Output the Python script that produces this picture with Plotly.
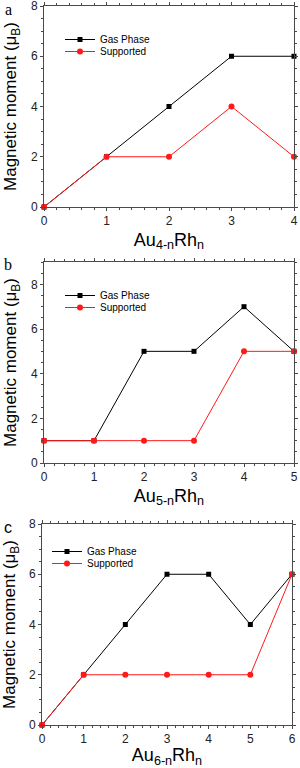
import plotly.graph_objects as go

# Panel a: Au(4-n)Rh(n)
n_a = [0, 1, 2, 3, 4]
gas_a = [0, 2, 4, 6, 6]
sup_a = [0, 2, 2, 4, 2]
# Panel b: Au(5-n)Rh(n)
n_b = [0, 1, 2, 3, 4, 5]
gas_b = [1, 1, 5, 5, 7, 5]
sup_b = [1, 1, 1, 1, 5, 5]
# Panel c: Au(6-n)Rh(n)
n_c = [0, 1, 2, 3, 4, 5, 6]
gas_c = [0, 2, 4, 6, 6, 4, 6]
sup_c = [0, 2, 2, 2, 2, 2, 6]

panel_labels = ["a", "b", "c"]
x_titles = ["Au<sub>4-n</sub>Rh<sub>n</sub>", "Au<sub>5-n</sub>Rh<sub>n</sub>", "Au<sub>6-n</sub>Rh<sub>n</sub>"]
y_title = "Magnetic moment (μ<sub>B</sub>)"
series_names = ["Gas Phase", "Supported"]

H = 768.0
W = 300.0
SERIF = "Liberation Serif, Times New Roman, serif"
FONT = "Liberation Sans, Arial, sans-serif"
panels = [
    dict(n=n_a, gas=gas_a, sup=sup_a, ymax=8, xpx=(44, 294), ypx=(6, 207),
         leg_x=60, leg_y=(39, 51), lab_font=SERIF),
    dict(n=n_b, gas=gas_b, sup=sup_b, ymax=9, xpx=(44, 294), ypx=(262, 463),
         leg_x=60, leg_y=(295, 307), lab_font=SERIF),
    dict(n=n_c, gas=gas_c, sup=sup_c, ymax=8, xpx=(42, 292), ypx=(524, 725),
         leg_x=47, leg_y=(551, 563), lab_font=FONT),
]

fig = go.Figure()
AXC = "#4a4a4a"
RED = "#ff1a1a"

for i, p in enumerate(panels):
    k = "" if i == 0 else str(i + 1)
    leg_g = "legend" if i == 0 else f"legend{2 * i + 1}"
    leg_s = f"legend{2 * i + 2}"
    fig.add_trace(go.Scatter(
        x=p["n"], y=p["gas"], name=series_names[0], mode="lines+markers",
        line=dict(color="black", width=1),
        marker=dict(symbol="square", size=5, color="black"),
        xaxis="x" + k, yaxis="y" + k, legend=leg_g, cliponaxis=False))
    fig.add_trace(go.Scatter(
        x=p["n"], y=p["sup"], name=series_names[1], mode="lines+markers",
        line=dict(color=RED, width=1),
        marker=dict(symbol="circle", size=6, color=RED),
        xaxis="x" + k, yaxis="y" + k, legend=leg_s, cliponaxis=False))

    xd = [p["xpx"][0] / W, p["xpx"][1] / W]
    yd = [1 - p["ypx"][1] / H, 1 - p["ypx"][0] / H]
    common = dict(showline=True, linecolor=AXC, linewidth=1, mirror="ticks",
                  ticks="outside", ticklen=3, tickcolor=AXC, showgrid=False,
                  zeroline=False, automargin=False, ticklabeloverflow="allow",
                  tickfont=dict(family=FONT, size=12, color="#222"),
                  minor=dict(ticks="outside", ticklen=2, tickcolor=AXC, showgrid=False))
    fig.layout["xaxis" + k] = dict(
        domain=xd, range=[0, len(p["n"]) - 1], dtick=1, tick0=0,
        anchor="y" + k,
        title=dict(text=x_titles[i], font=dict(family=FONT, size=18, color="black"), standoff=5),
        **common)
    fig.layout["yaxis" + k] = dict(
        domain=yd, range=[0, p["ymax"]], dtick=2, tick0=0,
        anchor="x" + k,
        title=dict(text=y_title, font=dict(family=FONT, size=17, color="black"), standoff=9),
        **common)
    for leg, cy in ((leg_g, p["leg_y"][0]), (leg_s, p["leg_y"][1])):
        fig.layout[leg] = dict(
            x=p["leg_x"] / W, y=1 - (cy - 14) / H, xanchor="left", yanchor="top",
            bgcolor="rgba(0,0,0,0)", font=dict(family=FONT, size=10, color="black"),
            tracegroupgap=0, itemwidth=30)
    fig.add_annotation(text=panel_labels[i], x=8 / W, y=1 - (p["ypx"][0] + 3) / H,
                       xref="paper", yref="paper", xanchor="center", yanchor="middle",
                       showarrow=False,
                       font=dict(family=p["lab_font"], size=16, color="black"))

fig.update_layout(width=300, height=768, margin=dict(l=0, r=0, t=0, b=0, autoexpand=False),
                  plot_bgcolor="white", paper_bgcolor="white", showlegend=True)
fig.write_html("out.html", config={"displayModeBar": False},
               post_script="document.body.style.margin='0';document.body.style.padding='0';")
